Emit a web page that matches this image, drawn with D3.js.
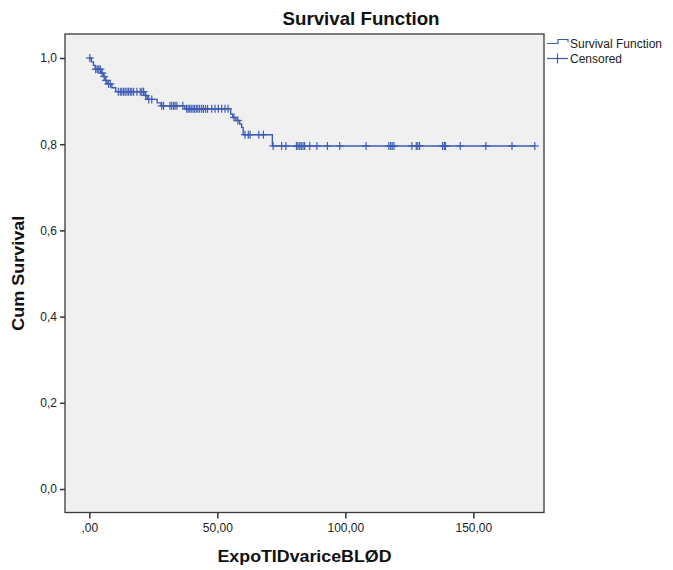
<!DOCTYPE html>
<html>
<head>
<meta charset="utf-8">
<script src="https://cdn.jsdelivr.net/npm/d3@7"></script>
<style>
  html, body { margin: 0; padding: 0; background: #fff; }
  svg { display: block; font-family: "Liberation Sans", Arial, sans-serif; }
</style>
</head>
<body>
<svg id="chart" width="673" height="570"></svg>
<script>
// ---- data ----
const chartTitle = "Survival Function";
const xTitle = "ExpoTIDvariceBLØD";
const yTitle = "Cum Survival";
const legendLabels = ["Survival Function", "Censored"];

// event times and survival level after each event
const eventTimes = [0.8, 1.6, 2.3, 4.7, 5.5, 6.2, 6.9, 8.8, 10.3, 21.8, 22.6, 26.5, 28.0, 37.3, 55.2, 56.0, 57.3, 58.7, 59.5, 60.1, 71.5];
const survival   = [0.991, 0.983, 0.974, 0.965, 0.957, 0.948, 0.940, 0.931, 0.922, 0.913, 0.904, 0.896, 0.889, 0.882, 0.870, 0.862, 0.855, 0.847, 0.839, 0.822, 0.796];

// censored observation times
const censorTimes = [0.2, 2.5, 3.1, 3.7, 4.3, 5.0, 5.8, 6.5, 7.5, 8.2,
  11.3, 12.1, 12.7, 13.4, 14.0, 14.7, 15.3, 16.0, 16.6, 17.3, 18.6, 19.9, 20.5, 21.2,
  22.0, 23.2, 24.4, 28.3, 29.0, 31.5, 32.2, 32.9, 33.5, 34.2, 36.5,
  38.0, 38.6, 39.2, 39.8, 40.5, 41.1, 41.8, 42.4, 43.1, 43.9, 44.6, 45.4, 46.2, 47.8, 49.1, 50.4, 51.7, 53.0, 54.2,
  56.5, 58.0, 60.8, 62.1, 62.8, 66.2, 68.0,
  71.8, 75.1, 76.8, 80.9, 81.5, 82.2, 82.8, 83.5, 84.1, 86.1, 88.9, 93.0, 97.8, 108.1,
  117.0, 117.7, 118.3, 119.0, 126.0, 127.7, 128.3, 129.0, 138.0, 138.7, 139.1, 144.9, 154.9, 165.1, 174.0];

const xTicks = [0, 50, 100, 150];
const xTickLabels = [",00", "50,00", "100,00", "150,00"];
const yTicks = [0, 0.2, 0.4, 0.6, 0.8, 1.0];
const yTickLabels = ["0,0", "0,2", "0,4", "0,6", "0,8", "1,0"];

// ---- layout ----
const plot = { left: 65, right: 544, top: 34, bottom: 512.5 };
const lineColor = "#3d5cb4";

const svg = d3.select("#chart");

const x = d3.scaleLinear().domain([-9.5, 177.6]).range([plot.left, plot.right]);
const y = d3.scaleLinear().domain([-0.0545, 1.0557]).range([plot.bottom, plot.top]);

// plot background + frame
svg.append("rect")
  .attr("x", plot.left).attr("y", plot.top)
  .attr("width", plot.right - plot.left).attr("height", plot.bottom - plot.top)
  .attr("fill", "#f0f0f0");

// axes
const xAxis = d3.axisBottom(x).tickValues(xTicks)
  .tickFormat((d, i) => xTickLabels[i]).tickSize(6).tickPadding(5);
const yAxis = d3.axisLeft(y).tickValues(yTicks)
  .tickFormat((d, i) => yTickLabels[i]).tickSize(5).tickPadding(3);

const gx = svg.append("g").attr("transform", `translate(0,${plot.bottom})`).call(xAxis);
const gy = svg.append("g").attr("transform", `translate(${plot.left},0)`).call(yAxis);
[gx, gy].forEach(g => {
  g.select(".domain").remove();
  g.selectAll(".tick line").attr("stroke", "#333").attr("stroke-width", 1.5);
  g.selectAll(".tick text").attr("fill", "#222").style("font-size", "12px")
    .style("font-family", "'Liberation Sans', Arial, sans-serif");
});

svg.append("rect")
  .attr("x", plot.left).attr("y", plot.top)
  .attr("width", plot.right - plot.left).attr("height", plot.bottom - plot.top)
  .attr("fill", "none").attr("stroke", "#3a3a3a").attr("stroke-width", 1.3);

// survival step curve
const lastTime = d3.max(censorTimes.concat(eventTimes));
const stepPts = [[0, 1]].concat(eventTimes.map((t, i) => [t, survival[i]]));
stepPts.push([lastTime, survival[survival.length - 1]]);

const line = d3.line().x(d => x(d[0])).y(d => y(d[1])).curve(d3.curveStepAfter);
svg.append("path").datum(stepPts)
  .attr("d", line).attr("fill", "none")
  .attr("stroke", lineColor).attr("stroke-width", 1.4);

// censor marks
function levelAt(t) {
  const i = d3.bisectRight(eventTimes, t);
  return i === 0 ? 1 : survival[i - 1];
}
const cs = 4;
const cg = svg.append("g").attr("stroke", lineColor).attr("stroke-width", 1.2);
censorTimes.forEach(t => {
  const cx = x(t), cy = y(levelAt(t));
  cg.append("line").attr("x1", cx).attr("x2", cx).attr("y1", cy - cs).attr("y2", cy + cs);
  cg.append("line").attr("x1", cx - cs).attr("x2", cx + cs).attr("y1", cy).attr("y2", cy);
});

// titles
svg.append("text").attr("x", 361).attr("y", 25).attr("text-anchor", "middle")
  .style("font-size", "18.5px").style("font-weight", "bold").attr("fill", "#111")
  .attr("textLength", 157).attr("lengthAdjust", "spacingAndGlyphs")
  .text(chartTitle);
svg.append("text").attr("x", (plot.left + plot.right) / 2).attr("y", 562).attr("text-anchor", "middle")
  .style("font-size", "16.5px").style("font-weight", "bold").attr("fill", "#111")
  .attr("textLength", 174).attr("lengthAdjust", "spacingAndGlyphs")
  .text(xTitle);
svg.append("text").attr("transform", `translate(24,${(plot.top + plot.bottom) / 2}) rotate(-90)`)
  .attr("text-anchor", "middle")
  .style("font-size", "16.5px").style("font-weight", "bold").attr("fill", "#111")
  .attr("textLength", 115).attr("lengthAdjust", "spacingAndGlyphs")
  .text(yTitle);

// legend
const lg = svg.append("g");
lg.append("path")
  .attr("d", "M547,43.5 H558 V39.5 H568 V42")
  .attr("fill", "none").attr("stroke", lineColor).attr("stroke-width", 1.2);
lg.append("line").attr("x1", 547).attr("x2", 568).attr("y1", 58.5).attr("y2", 58.5)
  .attr("stroke", lineColor).attr("stroke-width", 1.2);
lg.append("line").attr("x1", 557.5).attr("x2", 557.5).attr("y1", 53.5).attr("y2", 63.5)
  .attr("stroke", lineColor).attr("stroke-width", 1.2);
legendLabels.forEach((lab, i) => {
  lg.append("text").attr("x", 570).attr("y", 48 + i * 15)
    .style("font-size", "12px").attr("fill", "#222").text(lab);
});
</script>
</body>
</html>
